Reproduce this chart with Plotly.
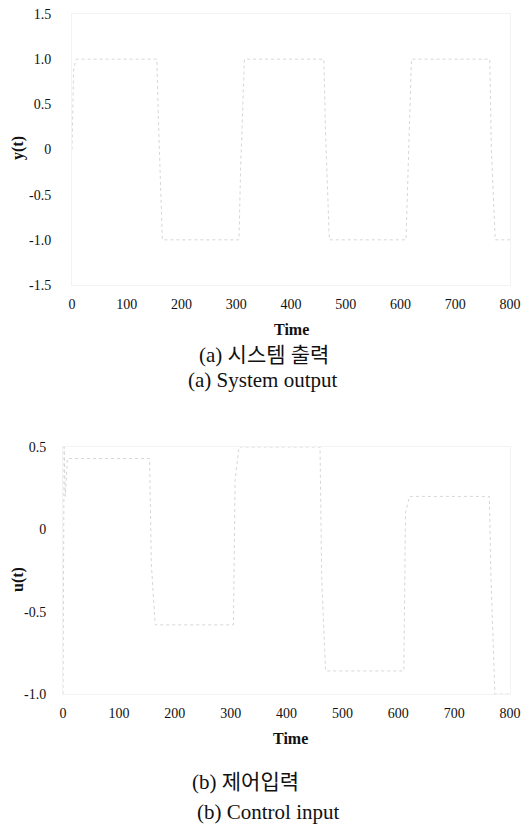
import plotly.graph_objects as go

# ---- data ----
time_y = [0, 3, 8, 155, 158, 165, 305, 308, 315, 460, 463, 470, 610, 613, 620, 763, 766, 773, 800]
y_out = [0.0, 0.9, 1.0, 1.0, 0.3, -1.0, -1.0, -0.2, 1.0, 1.0, 0.2, -1.0, -1.0, -0.4, 1.0, 1.0, 0.0, -1.0, -1.0]

time_u = [0, 2, 4, 8, 155, 158, 165, 305, 308, 315, 460, 463, 470, 610, 613, 620, 763, 766, 773, 800]
u_in = [-1.0, 0.5, 0.2, 0.43, 0.43, -0.2, -0.58, -0.58, 0.3, 0.5, 0.5, -0.3, -0.86, -0.86, 0.1, 0.2, 0.2, -0.3, -1.0, -1.0]

x_ticks = [0, 100, 200, 300, 400, 500, 600, 700, 800]
y_ticks_top = [1.5, 1.0, 0.5, 0, -0.5, -1.0, -1.5]
y_labels_top = ["1.5", "1.0", "0.5", "0", "-0.5", "-1.0", "-1.5"]
y_ticks_bot = [0.5, 0, -0.5, -1.0]
y_labels_bot = ["0.5", "0", "-0.5", "-1.0"]

# page body has an 8px default margin -> figure is 8px smaller and offset
OFF = 8
W, H = 530 - OFF, 824 - OFF
SERIF = "Liberation Serif, Times New Roman, serif"
CAP = "Liberation Serif, Noto Sans CJK KR, serif"
LINE = dict(color="#d6d6d6", width=1, dash="dot")

fig = go.Figure()
fig.add_trace(go.Scatter(x=time_y, y=y_out, mode="lines", line=LINE, xaxis="x", yaxis="y", showlegend=False))
fig.add_trace(go.Scatter(x=time_u, y=u_in, mode="lines", line=LINE, xaxis="x2", yaxis="y2", showlegend=False))

def px(p):
    return (p - OFF) / W

def py(p):
    return 1 - (p - OFF) / H

tickfont = dict(family=SERIF, size=14, color="#111")
axis_common = dict(showgrid=False, zeroline=False, showline=True, linecolor="#f3f3f3", mirror=True,
                   ticks="", tickfont=tickfont, automargin=False, ticklabeloverflow="allow")

fig.update_layout(
    width=W, height=H, margin=dict(l=0, r=0, t=0, b=0, pad=0, autoexpand=False),
    paper_bgcolor="white", plot_bgcolor="white",
    xaxis=dict(domain=[px(72), px(510)], range=[0, 800], anchor="y", tickvals=x_ticks,
               ticklabelstandoff=6, **axis_common),
    yaxis=dict(domain=[py(285), py(14)], range=[-1.5, 1.5], anchor="x", tickvals=y_ticks_top,
               ticktext=y_labels_top, ticklabelstandoff=17, **axis_common),
    xaxis2=dict(domain=[px(63), px(510)], range=[0, 800], anchor="y2", tickvals=x_ticks,
                ticklabelstandoff=6, **axis_common),
    yaxis2=dict(domain=[py(694), py(447)], range=[-1.0, 0.5], anchor="x2", tickvals=y_ticks_bot,
                ticktext=y_labels_bot, ticklabelstandoff=13, **axis_common),
)

ann = [
    dict(text="<b>Time</b>", x=px(291), y=py(330), font=dict(family=SERIF, size=16, color="#111")),
    dict(text="(a) 시스템 출력", x=px(264), y=py(355), font=dict(family=CAP, size=21, color="#111")),
    dict(text="(a) System output", x=px(262), y=py(380), font=dict(family=CAP, size=21, color="#111")),
    dict(text="<b>Time</b>", x=px(290), y=py(738), font=dict(family=SERIF, size=16, color="#111")),
    dict(text="(b) 제어입력", x=px(245), y=py(782), font=dict(family=CAP, size=21, color="#111")),
    dict(text="(b) Control input", x=px(268), y=py(812), font=dict(family=CAP, size=21, color="#111")),
    dict(text="<b>y(t)</b>", x=px(18), y=py(148), textangle=-90, font=dict(family=SERIF, size=16, color="#111")),
    dict(text="<b>u(t)</b>", x=px(18), y=py(580), textangle=-90, font=dict(family=SERIF, size=16, color="#111")),
]
for a in ann:
    fig.add_annotation(xref="paper", yref="paper", showarrow=False, xanchor="center", yanchor="middle", **a)

fig.write_html("out.html")
